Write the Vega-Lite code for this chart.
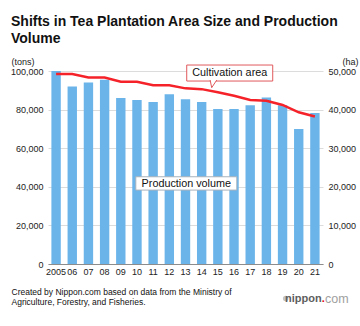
{
  "$schema": "https://vega.github.io/schema/vega-lite/v6.json",
  "width": 275,
  "height": 193,
  "autosize": {"type": "none"},
  "padding": {"left": 48, "top": 71, "right": 37, "bottom": 62},
  "background": "#ffffff",
  "config": {
    "font": "Liberation Sans",
    "view": {"stroke": null},
    "axis": {
      "labelFont": "Liberation Sans",
      "labelFontSize": 9,
      "labelColor": "#222222",
      "titleFont": "Liberation Sans",
      "titleFontWeight": "normal",
      "titleColor": "#222222",
      "ticks": false,
      "domain": false,
      "gridColor": "#dcdcdc"
    }
  },
  "title": {
    "text": ["Shifts in Tea Plantation Area Size and Production", "Volume"],
    "anchor": "start",
    "frame": "group",
    "dx": -37,
    "offset": 12,
    "font": "Liberation Sans",
    "fontSize": 14,
    "fontWeight": "bold",
    "color": "#111111",
    "lineHeight": 17
  },
  "data": {
    "values": [
      {"year": "2005", "tons": 100000, "ha": 49200},
      {"year": "2006", "tons": 92000, "ha": 49200},
      {"year": "2007", "tons": 94000, "ha": 48300},
      {"year": "2008", "tons": 95500, "ha": 48300},
      {"year": "2009", "tons": 86000, "ha": 47200},
      {"year": "2010", "tons": 85000, "ha": 47200},
      {"year": "2011", "tons": 84000, "ha": 46300},
      {"year": "2012", "tons": 88000, "ha": 46300},
      {"year": "2013", "tons": 85300, "ha": 45500},
      {"year": "2014", "tons": 84000, "ha": 45300},
      {"year": "2015", "tons": 80300, "ha": 44500},
      {"year": "2016", "tons": 80300, "ha": 43600},
      {"year": "2017", "tons": 82300, "ha": 42500},
      {"year": "2018", "tons": 86300, "ha": 42300},
      {"year": "2019", "tons": 82300, "ha": 41200},
      {"year": "2020", "tons": 70000, "ha": 39300},
      {"year": "2021", "tons": 78300, "ha": 38200}
    ]
  },
  "layer": [
    {
      "mark": {"type": "bar", "color": "#6ab4ea"},
      "encoding": {
        "x": {
          "field": "year",
          "type": "ordinal",
          "scale": {"paddingInner": 0.42, "paddingOuter": 0.21},
          "axis": {
            "labelAngle": 0,
            "labelPadding": 3,
            "domain": true,
            "domainColor": "#8c8c8c",
            "labelExpr": "datum.value == '2005' ? '2005' : slice(datum.value, 2)",
            "title": ["Created by Nippon.com based on data from the Ministry of", "Agriculture, Forestry, and Fisheries."],
            "titleX": -37,
            "titleY": 23,
            "titleAlign": "left",
            "titleAnchor": "start",
            "titleBaseline": "top",
            "titleFontSize": 8.5,
            "titleColor": "#111111",
            "titleLineHeight": 10.5
          }
        },
        "y": {
          "field": "tons",
          "type": "quantitative",
          "scale": {"domain": [0, 100000], "nice": false},
          "axis": {
            "orient": "left",
            "values": [0, 20000, 40000, 60000, 80000, 100000],
            "format": ",d",
            "grid": true,
            "labelPadding": 5,
            "title": "(tons)",
            "titleAngle": 0,
            "titleX": -37,
            "titleY": -9.5,
            "titleAlign": "left",
            "titleBaseline": "middle",
            "titleFontSize": 9
          }
        }
      }
    },
    {
      "mark": {"type": "line", "color": "#f5222a", "strokeWidth": 2.5},
      "encoding": {
        "x": {"field": "year", "type": "ordinal"},
        "y": {
          "field": "ha",
          "type": "quantitative",
          "scale": {"domain": [0, 50000], "nice": false},
          "axis": {
            "orient": "right",
            "values": [0, 10000, 20000, 30000, 40000, 50000],
            "format": ",d",
            "grid": false,
            "labelPadding": 5,
            "title": "(ha)",
            "titleAngle": 0,
            "titleX": 35,
            "titleY": -9.5,
            "titleAlign": "right",
            "titleBaseline": "middle",
            "titleFontSize": 9
          }
        }
      }
    },
    {
      "data": {"values": [{}]},
      "layer": [
        {
          "mark": {"type": "bar", "width": 86, "xOffset": -4.3, "fill": "#ffffff", "stroke": "#e0595c", "strokeWidth": 1},
          "encoding": {
            "x": {"datum": "2016", "type": "ordinal"},
            "y": {"datum": 94800, "type": "quantitative", "scale": {"domain": [0, 100000], "nice": false}, "axis": null},
            "y2": {"datum": 103100}
          }
        },
        {
          "mark": {"type": "point", "shape": "M-0.95,-1.2L-0.5,1L0.95,-1.2", "size": 49, "filled": true, "fill": "#ffffff", "stroke": "#e0595c", "strokeWidth": 1, "opacity": 1, "xOffset": -4.4},
          "encoding": {
            "x": {"datum": "2015", "type": "ordinal"},
            "y": {"datum": 93160, "type": "quantitative", "scale": {"domain": [0, 100000], "nice": false}, "axis": null}
          }
        },
        {
          "mark": {"type": "text", "text": "Cultivation area", "fontSize": 10.8, "color": "#111111", "align": "center", "baseline": "middle", "xOffset": -4.3},
          "encoding": {
            "x": {"datum": "2016", "type": "ordinal"},
            "y": {"datum": 99000, "type": "quantitative", "scale": {"domain": [0, 100000], "nice": false}, "axis": null}
          }
        },
        {
          "mark": {"type": "bar", "width": 101, "xOffset": 0.8, "fill": "#ffffff", "stroke": "#a9b3bd", "strokeWidth": 1},
          "encoding": {
            "x": {"datum": "2013", "type": "ordinal"},
            "y": {"datum": 38300, "type": "quantitative", "scale": {"domain": [0, 100000], "nice": false}, "axis": null},
            "y2": {"datum": 45200}
          }
        },
        {
          "mark": {"type": "text", "text": "Production volume", "fontSize": 10.8, "color": "#111111", "align": "center", "baseline": "middle", "xOffset": 0.8},
          "encoding": {
            "x": {"datum": "2013", "type": "ordinal"},
            "y": {"datum": 41700, "type": "quantitative", "scale": {"domain": [0, 100000], "nice": false}, "axis": null}
          }
        },
        {
          "mark": {"type": "point", "shape": "circle", "size": 30, "filled": true, "color": "#c4c4c4", "opacity": 1, "xOffset": 3.1},
          "encoding": {
            "x": {"datum": "2019", "type": "ordinal"},
            "y": {"datum": -17880, "type": "quantitative", "scale": {"domain": [0, 100000], "nice": false}, "axis": null}
          }
        },
        {
          "mark": {"type": "text", "text": "nippon", "fontSize": 11, "fontWeight": "bold", "color": "#5e5e5e", "align": "right", "baseline": "middle", "dx": 6.7},
          "encoding": {
            "x": {"datum": "2021", "type": "ordinal"},
            "y": {"datum": -17880, "type": "quantitative", "scale": {"domain": [0, 100000], "nice": false}, "axis": null}
          }
        },
        {
          "mark": {"type": "text", "text": ".", "fontSize": 11, "fontWeight": "bold", "color": "#e60012", "align": "left", "baseline": "middle", "dx": 6.9},
          "encoding": {
            "x": {"datum": "2021", "type": "ordinal"},
            "y": {"datum": -17880, "type": "quantitative", "scale": {"domain": [0, 100000], "nice": false}, "axis": null}
          }
        },
        {
          "mark": {"type": "text", "text": "com", "fontSize": 12.5, "color": "#a0a0a0", "align": "left", "baseline": "middle", "dx": 10.2},
          "encoding": {
            "x": {"datum": "2021", "type": "ordinal"},
            "y": {"datum": -17880, "type": "quantitative", "scale": {"domain": [0, 100000], "nice": false}, "axis": null}
          }
        }
      ]
    }
  ],
  "resolve": {"scale": {"y": "independent"}, "axis": {"y": "independent"}}
}
